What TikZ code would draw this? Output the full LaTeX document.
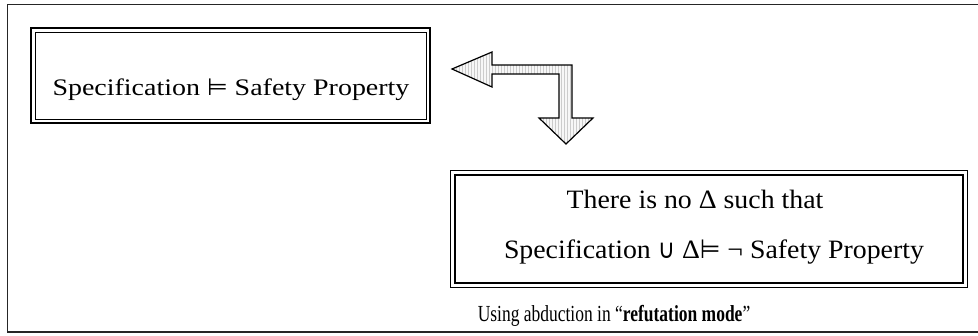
\documentclass[tikz,border=0pt]{standalone}
\usepackage{fontspec}
\usepackage{graphicx}
\setmainfont{Liberation Serif}
\newfontfamily\symfont{DejaVu Sans}
\usetikzlibrary{patterns}
\newcommand\wtext[2]{\scalebox{#1}[1]{#2}}
\newcommand\mysym[1]{{\symfont\scalebox{0.85}[1]{#1}}}
\tikzset{
  onetext/.style={inner sep=0pt, font=\fontsize{23.7}{28}\selectfont},
  twotext/.style={inner sep=0pt, font=\fontsize{26.5}{30}\selectfont},
  captext/.style={inner sep=0pt, font=\fontsize{23}{27}\selectfont},
  thickline/.style={line width=2pt},
  thinline/.style={line width=1pt},
  arrowfill/.style={draw=black, line width=1.2pt, line join=miter,
    preaction={fill=gray!6}, pattern=vertical lines, pattern color=gray!40},
}
\begin{document}
\begin{tikzpicture}[x=1pt,y=-1pt]
\useasboundingbox (0,0) rectangle (978,335);
% outer frame (right side cut off)
\draw[line width=1.5pt, black!85] (980,4.5) -- (7.5,4.5) -- (7.5,332) -- (980,332);
% box 1
\draw[thickline] (31,28) rectangle (430,123);
\draw[thinline] (35,32) rectangle (426,119);
\node[onetext, anchor=base] (t1) at (231,95) {\wtext{1.18}{Specification \mysym{⊨} Safety Property}};
% box 2
\draw[thinline] (450.5,170) rectangle (967,287);
\draw[thickline] (455,174.5) rectangle (962.5,282.5);
\node[twotext, anchor=base] (t2) at (695,208) {\wtext{1.05}{There is no Δ such that}};
\node[twotext, anchor=base] (t3) at (714,258) {\wtext{1.05}{Specification \mysym{∪} Δ\mysym{⊨} ¬ Safety Property}};
% caption
\node[captext, anchor=base] (cap) at (614,321) {\wtext{0.76}{Using abduction in “\textbf{refutation mode}”}};
% bent double-ended arrow
\draw[arrowfill] (452,69) -- (492,52) -- (492,65) -- (572,65) -- (572,118)
  -- (593,118) -- (566,144) -- (539,118) -- (559,118) -- (559,74)
  -- (492,74) -- (492,87) -- cycle;
\end{tikzpicture}
\end{document}
